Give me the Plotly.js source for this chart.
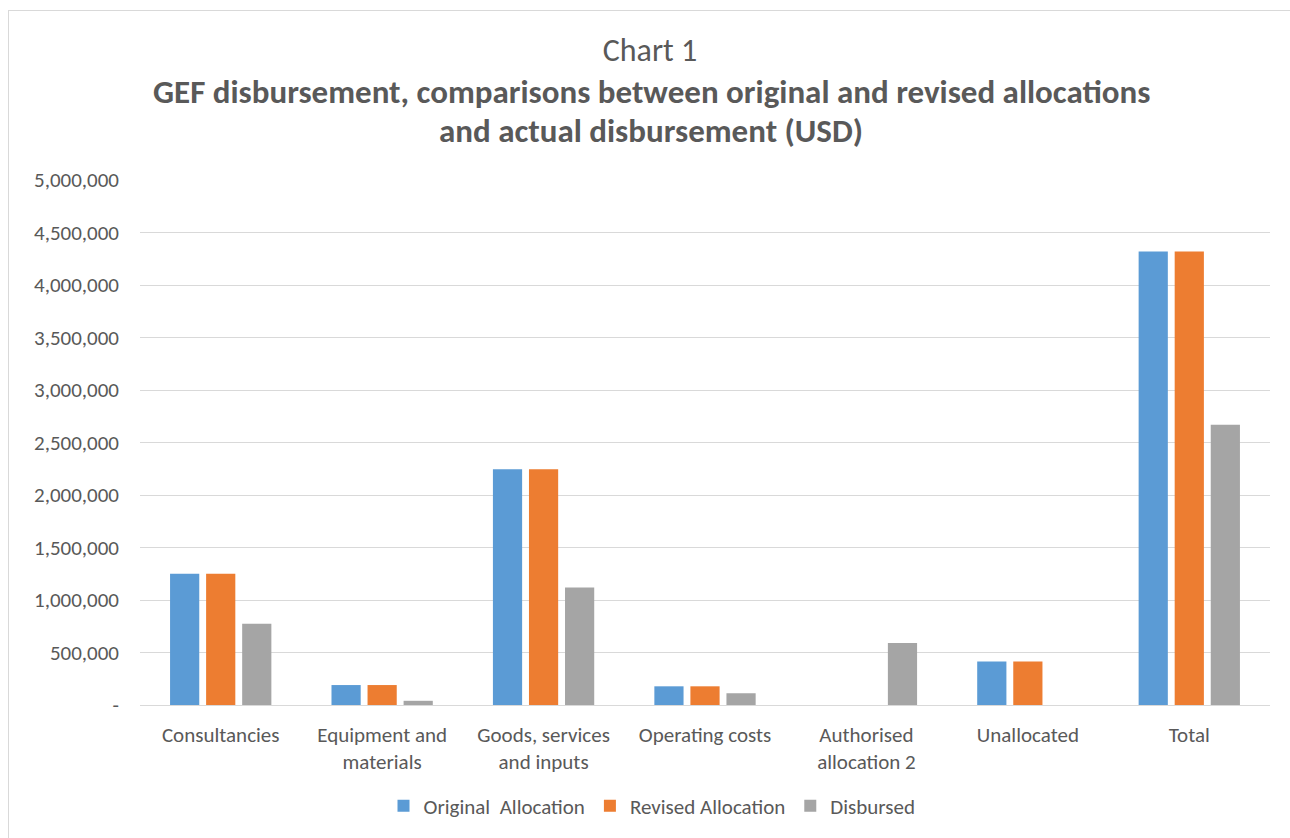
<!DOCTYPE html>
<html>
<head>
<meta charset="utf-8">
<script src="https://cdn.plot.ly/plotly-3.0.1.min.js"></script>
<style>
  html, body { margin: 0; padding: 0; background: #ffffff; }
  #frame { position: absolute; left: 8px; top: 10px; width: 1290px; height: 840px; border: 1px solid #d9d9d9; box-sizing: border-box; }
  #chart { position: absolute; left: 0; top: 0; width: 1290px; height: 838px; }
</style>
</head>
<body>
<div id="frame"></div>
<div id="chart"></div>
<script>
const categories = ["Consultancies", "Equipment and<br>materials", "Goods, services<br>and inputs", "Operating costs", "Authorised<br>allocation 2", "Unallocated", "Total"];
const originalAllocation = [1250000, 190000, 2245000, 178000, 0, 415000, 4320000];
const revisedAllocation = [1250000, 190000, 2245000, 178000, 0, 415000, 4320000];
const disbursed = [775000, 40000, 1120000, 112000, 590000, 0, 2670000];
const seriesNames = ["Original  Allocation", "Revised Allocation", "Disbursed"];
const tickValues = [0, 500000, 1000000, 1500000, 2000000, 2500000, 3000000, 3500000, 4000000, 4500000, 5000000];
const tickLabels = ["-", "500,000", "1,000,000", "1,500,000", "2,000,000", "2,500,000", "3,000,000", "3,500,000", "4,000,000", "4,500,000", "5,000,000"];

const FONT = "Carlito, 'Liberation Sans Narrow', 'Noto Sans', sans-serif";
const TXT = "#595959";
const colors = ["#5b9bd5", "#ed7d31", "#a5a5a5"];
const values = [originalAllocation, revisedAllocation, disbursed];

const data = values.map((v, i) => ({
  type: "bar",
  x: categories,
  y: v,
  name: seriesNames[i],
  marker: { color: colors[i], line: { width: 0 } },
  hoverinfo: "x+y+name"
}));

const PLOT_BOTTOM = 710, PLOT_H = 530;

const layout = {
  width: 1290,
  height: 838,
  paper_bgcolor: "rgba(0,0,0,0)",
  plot_bgcolor: "rgba(0,0,0,0)",
  margin: { l: 140, r: 20, t: 180, b: 128 },
  barmode: "group",
  bargap: 0.33,
  bargroupgap: 0.19,
  font: { family: FONT, color: TXT, size: 21 },
  title: {
    text: "Chart 1",
    font: { family: FONT, size: 32, color: TXT },
    x: 650 / 1290, xanchor: "center",
    y: 1 - 50 / 838, yanchor: "middle", yref: "container"
  },
  annotations: [
    { text: "<b>GEF disbursement, comparisons between original and revised allocations</b>", xref: "paper", yref: "paper", x: (651 - 140) / 1130, y: (PLOT_BOTTOM - 91) / PLOT_H, xanchor: "center", yanchor: "middle", showarrow: false, font: { family: FONT, size: 33, color: TXT } },
    { text: "<b>and actual disbursement (USD)</b>", xref: "paper", yref: "paper", x: (651 - 140) / 1130, y: (PLOT_BOTTOM - 131) / PLOT_H, xanchor: "center", yanchor: "middle", showarrow: false, font: { family: FONT, size: 33, color: TXT } }
  ],
  xaxis: {
    type: "category",
    tickfont: { family: FONT, size: 21, color: TXT },
    showgrid: false,
    showline: false,
    ticks: "",
    ticklabelstandoff: 15,
    automargin: false
  },
  yaxis: {
    range: [0, 5000000],
    tickvals: tickValues,
    ticktext: tickLabels,
    tickfont: { family: FONT, size: 21, color: TXT },
    showgrid: true,
    gridcolor: "#d9d9d9",
    gridwidth: 1,
    zeroline: true,
    zerolinecolor: "#d9d9d9",
    zerolinewidth: 1,
    showline: false,
    ticks: "",
    ticklen: 0,
    ticklabelstandoff: 20,
    automargin: false
  },
  legend: {
    orientation: "h",
    x: (652 - 140) / 1130, xanchor: "center",
    y: (PLOT_BOTTOM - 812) / PLOT_H, yanchor: "middle",
    font: { family: FONT, size: 21, color: TXT },
    traceorder: "normal",
    itemwidth: 30
  },
  showlegend: true
};

Plotly.newPlot("chart", data, layout, { displayModeBar: false, staticPlot: true });
</script>
</body>
</html>
